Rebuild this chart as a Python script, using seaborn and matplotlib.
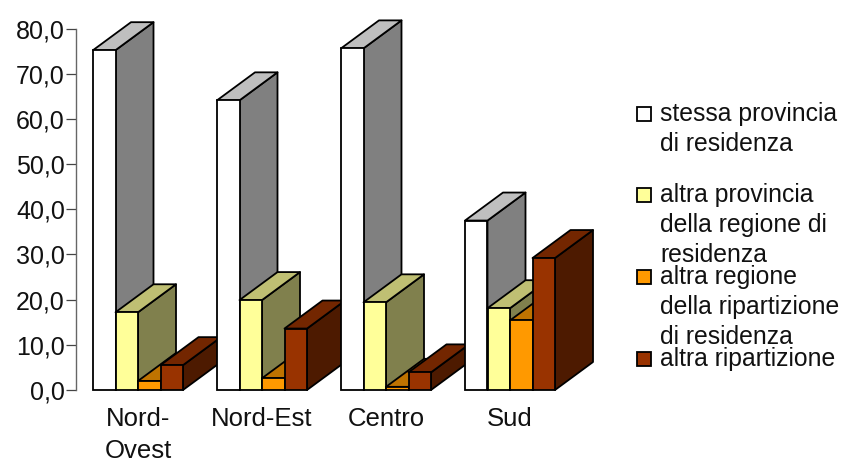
import matplotlib
matplotlib.use("Agg")
import matplotlib.pyplot as plt
import pandas as pd
import seaborn as sns
from matplotlib.colors import to_rgb
from matplotlib.patches import Polygon, Rectangle

sns.set_theme(style="white")
plt.rcParams["font.family"] = ["Liberation Sans", "DejaVu Sans"]

regions = ["Nord-\nOvest", "Nord-Est", "Centro", "Sud"]
destinations = [
    "stessa provincia\ndi residenza",
    "altra provincia\ndella regione di\nresidenza",
    "altra regione\ndella ripartizione\ndi residenza",
    "altra ripartizione",
]
stessa_provincia = [75.2, 64.1, 75.6, 37.5]
altra_provincia = [17.2, 19.9, 19.4, 18.1]
altra_regione = [2.0, 2.6, 0.7, 15.4]
altra_ripartizione = [5.5, 13.6, 3.9, 29.2]
bar_colors = ["#FFFFFF", "#FFFF99", "#FF9900", "#993300"]
y_ticks = [0, 10, 20, 30, 40, 50, 60, 70, 80]

W, H = 843, 463
AX_LEFT, AX_RIGHT, AX_BOTTOM, AX_TOP = 76, 572, 390, 28.5
DEPTH_X_PX, DEPTH_Y_PX = 38, 28
EDGE = 1.3

frame = pd.DataFrame({
    "regione": regions * 4,
    "destinazione": [d for d in destinations for _ in regions],
    "quota": stessa_provincia + altra_provincia + altra_regione + altra_ripartizione,
})

fig = plt.figure(figsize=(W / 100, H / 100), dpi=100, facecolor="white")
ax = fig.add_axes([AX_LEFT / W, 1 - AX_BOTTOM / H,
                   (AX_RIGHT - AX_LEFT) / W, (AX_BOTTOM - AX_TOP) / H])

sns.barplot(data=frame, x="regione", y="quota", hue="destinazione",
            order=regions, hue_order=destinations,
            palette=bar_colors, saturation=1, width=90 / 124, gap=0,
            edgecolor="black", linewidth=EDGE, legend=False, ax=ax)

ax.set_xlim(-0.5, 3.5)
ax.set_ylim(0, 80)
depth_x = DEPTH_X_PX * 4 / (AX_RIGHT - AX_LEFT)
depth_y = DEPTH_Y_PX * 80 / (AX_BOTTOM - AX_TOP)


def shaded(color, factor):
    return tuple(c * factor for c in to_rgb(color))


# Extrude every front face: groups left to right, bars left to right,
# so that each box overlaps the one behind it.
order = 10
for g in range(len(regions)):
    for s, container in enumerate(ax.containers):
        bar = container.patches[g]
        x0, x1 = bar.get_x(), bar.get_x() + bar.get_width()
        top = bar.get_height()
        base = bar_colors[s]
        side = Polygon([(x1, 0), (x1 + depth_x, depth_y),
                        (x1 + depth_x, top + depth_y), (x1, top)],
                       closed=True, facecolor=shaded(base, 0.5), edgecolor="black",
                       linewidth=EDGE, clip_on=False, zorder=order,
                       joinstyle="round")
        cap = Polygon([(x0, top), (x1, top),
                       (x1 + depth_x, top + depth_y), (x0 + depth_x, top + depth_y)],
                      closed=True, facecolor=shaded(base, 0.75), edgecolor="black",
                      linewidth=EDGE, clip_on=False, zorder=order + 1,
                      joinstyle="round")
        ax.add_patch(side)
        ax.add_patch(cap)
        bar.set_zorder(order + 2)
        bar.set_clip_on(False)
        order += 3

ax.set_xlabel("")
ax.set_ylabel("")
ax.set_yticks(y_ticks)
ax.set_yticklabels([f"{v:.1f}".replace(".", ",") for v in y_ticks],
                   fontsize=18, color="#111111")
ax.set_xticks(range(len(regions)))
ax.set_xticklabels(regions, fontsize=18.5, color="#111111", linespacing=1.42)
ax.tick_params(axis="y", length=7, width=0.9, color="#444444", left=True, pad=1)
ax.tick_params(axis="x", length=0, pad=12)
sns.despine(ax=ax, top=True, right=True, bottom=True)
ax.spines["left"].set_color("#666666")
ax.spines["left"].set_linewidth(1.0)
ax.patch.set_alpha(0)

# Legend laid out by hand: one swatch and one wrapped label per entry
entry_tops = [113, 194, 276, 358]
for label, color, y in zip(destinations, bar_colors, entry_tops):
    fig.add_artist(Rectangle((637 / W, 1 - (y + 7.5) / H), 14 / W, 14 / H,
                             transform=fig.transFigure, facecolor=color,
                             edgecolor="black", linewidth=EDGE))
    fig.text(660 / W, 1 - (y - 11) / H, label, fontsize=17.8, color="#111111",
             va="top", ha="left", linespacing=1.32)

fig.savefig("out.png", dpi=100)
